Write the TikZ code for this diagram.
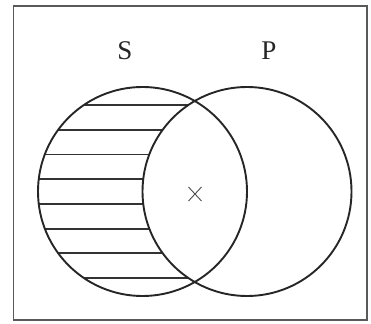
\documentclass[tikz,border=0pt]{standalone}
\usepackage{fontspec}
\setmainfont{Liberation Serif}
\usetikzlibrary{calc}
\begin{document}
\begin{tikzpicture}[x=1pt,y=-1pt,
  outline/.style={draw=black!85,line width=1.9pt},
  hatch/.style={draw=black!80,line width=1.9pt},
  frame/.style={draw=black!65,line width=1.4pt},
  setlabel/.style={font=\fontsize{27}{27}\selectfont,text=black!85,anchor=base,inner sep=0pt},
  crossmark/.style={draw=black!70,line width=0.9pt}]
  \useasboundingbox (0,0) rectangle (371,323);
  % outer frame
  \draw[frame] (13.5,6) rectangle (367,320);
  % circle centres and radius
  \def\rr{104.5}
  \coordinate (cS) at (142.5,191.5);
  \coordinate (cP) at (247,191.5);
  % horizontal hatching of S outside P
  \foreach \dy in {-86.45,-61.75,-37.05,-12.35,12.35,37.05,61.75,86.45}{
    \pgfmathsetmacro\hw{sqrt(\rr*\rr-\dy*\dy)}
    \draw[hatch] (142.5-\hw,191.5+\dy) -- ++(104.5,0);
  }
  % the two circles
  \draw[outline] (cS) circle (\rr);
  \draw[outline] (cP) circle (\rr);
  % labels
  \node[setlabel] (labS) at (125,60) {S};
  \node[setlabel] (labP) at (269,60) {P};
  % cross in the overlap
  \coordinate (x0) at (195,194);
  \draw[crossmark] ($(x0)+(-6.5,-7)$) -- ($(x0)+(6.5,7)$);
  \draw[crossmark] ($(x0)+(-6.5,7)$) -- ($(x0)+(6.5,-7)$);
\end{tikzpicture}
\end{document}
